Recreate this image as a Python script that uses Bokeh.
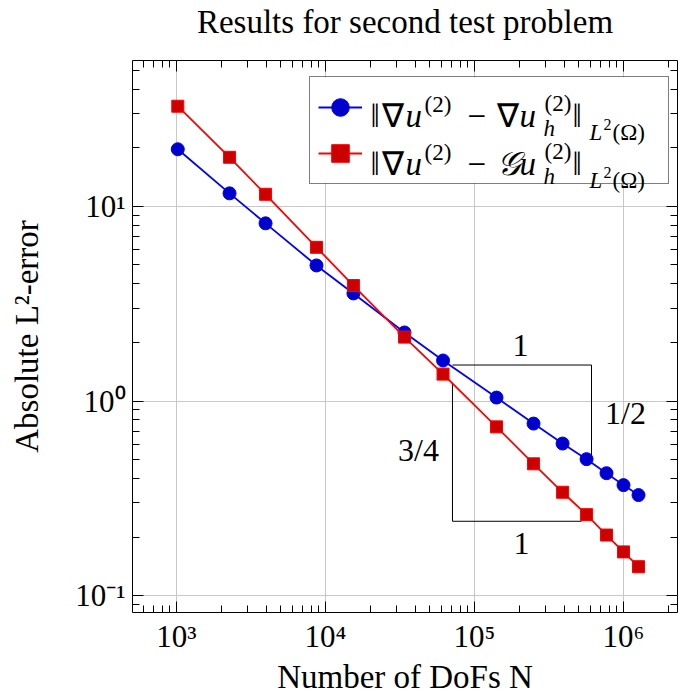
from bokeh.plotting import figure
from bokeh.models import (Range1d, FixedTicker, LogAxis, Label, Legend, LegendItem,
                          CustomJSTickFormatter, BoxAnnotation, Title)
from bokeh.embed import file_html
from bokeh.resources import INLINE

# ---------------- data ----------------
dofs = [1020, 2270, 3960, 8700, 15400, 33900, 61500, 140500, 249000,
        390000, 565000, 769000, 1000000, 1261000]
err_grad = [19.64, 11.66, 8.18, 4.97, 3.57, 2.25, 1.615, 1.042, 0.766,
            0.605, 0.503, 0.426, 0.370, 0.329]
err_rec = [32.67, 17.86, 11.53, 6.16, 3.92, 2.13, 1.375, 0.737, 0.476,
           0.340, 0.261, 0.205, 0.168, 0.141]

x_major = [1e3, 1e4, 1e5, 1e6]
x_labels = ["10³", "10⁴", "10⁵", "10⁶"]
y_major = [0.1, 1.0, 10.0]
y_labels = ["10⁻¹", "10⁰", "10¹"]

# slope triangles (data coordinates)
tri_half_x = [71150, 609900, 609900]
tri_half_y = [1.531, 1.531, 0.503]
tri_34_x = [71150, 71150, 522600]
tri_34_y = [1.245, 0.2413, 0.2413]

title_text = "Results for second test problem"
x_title = "Number of DoFs N"
y_title = "Absolute L²-error"

LX0, LX1 = 2.7047, 6.3624
LY0, LY1 = -1.086, 1.749

FONT = "Liberation Serif"

x_minor = [m * 10 ** e for e in range(2, 7) for m in range(2, 10)
           if 10 ** LX0 < m * 10 ** e < 10 ** LX1]
y_minor = [m * 10.0 ** e for e in range(-2, 2) for m in range(2, 10)
           if 10 ** LY0 < m * 10.0 ** e < 10 ** LY1]

p = figure(width=678, height=698, x_axis_type="log", y_axis_type="log",
           x_range=Range1d(10 ** LX0, 10 ** LX1), y_range=Range1d(10 ** LY0, 10 ** LY1),
           output_backend="svg", toolbar_location=None,
           min_border_left=132, min_border_right=1, min_border_top=60,
           min_border_bottom=86)
p.background_fill_color = "white"
p.border_fill_color = "white"
p.outline_line_color = "black"
p.outline_line_width = 1

p.title.text = title_text
p.title.text_font = FONT
p.title.text_font_size = "33px"
p.title.text_font_style = "normal"
p.title.text_color = "black"
p.title.align = "center"
p.title.standoff = 0

xt = FixedTicker(ticks=x_major, minor_ticks=x_minor)
yt = FixedTicker(ticks=y_major, minor_ticks=y_minor)


def style_axis(ax, ticker):
    ax.ticker = ticker
    ax.axis_line_color = None
    ax.major_tick_in = 11
    ax.major_tick_out = 0
    ax.minor_tick_in = 7
    ax.minor_tick_out = 0
    ax.major_tick_line_color = "black"
    ax.minor_tick_line_color = "black"
    ax.major_tick_line_width = 1
    ax.minor_tick_line_width = 1
    ax.major_label_text_font = FONT
    ax.major_label_text_font_size = "31px"
    ax.major_label_text_color = "black"
    ax.axis_label_text_font = FONT
    ax.axis_label_text_font_size = "33px"
    ax.axis_label_text_font_style = "normal"
    ax.axis_label_text_color = "black"


xa = p.xaxis[0]
style_axis(xa, xt)
xa.major_label_overrides = {float(k): v for k, v in zip(x_major, x_labels)}
xa.major_label_standoff = 6
xa.axis_label = x_title
xa.axis_label_standoff = 2

ya = p.yaxis[0]
style_axis(ya, yt)
ya.major_label_overrides = {float(k): v for k, v in zip(y_major, y_labels)}
ya.major_label_standoff = 7
ya.axis_label = y_title
ya.axis_label_standoff = 27

blank = CustomJSTickFormatter(code="return ''")
top = LogAxis()
style_axis(top, xt)
top.formatter = blank
top.major_label_standoff = 0
p.add_layout(top, "above")
right = LogAxis()
style_axis(right, yt)
right.formatter = blank
right.major_label_standoff = 0
p.add_layout(right, "right")

# spacer between the title and the frame
p.add_layout(Title(text=" ", text_font_size="1px", standoff=18), "above")

p.xgrid.grid_line_color = "#c8c8c8"
p.ygrid.grid_line_color = "#c8c8c8"
p.xgrid.grid_line_width = 1
p.ygrid.grid_line_width = 1


# helpers mapping reference pixel positions to data coordinates
def dx(px):
    return 10 ** (LX0 + (px - 132.0) / (677.0 - 132.0) * (LX1 - LX0))


def dy(py):
    return 10 ** (LY1 - (py - 60.3) / (611.7 - 60.3) * (LY1 - LY0))


# white backing of the legend box (covers the grid)
p.add_layout(BoxAnnotation(left=dx(309), right=dx(667), top=dy(77), bottom=dy(183),
                           fill_color="white", fill_alpha=1, line_color=None,
                           level="glyph"))

# slope triangles
p.line(tri_half_x, tri_half_y, line_color="black", line_width=1)
p.line(tri_34_x, tri_34_y, line_color="black", line_width=1)

# data series
r1l = p.line(dofs, err_grad, line_color="#0000ff", line_width=1.8)
r1m = p.scatter(dofs, err_grad, marker="circle", size=13,
                fill_color="#0000cc", line_color="#0000ff", line_width=1)
r2l = p.line(dofs, err_rec, line_color="#ff0000", line_width=1.8)
r2m = p.scatter(dofs, err_rec, marker="square", size=12,
                fill_color="#cc0000", line_color="#ff0000", line_width=1)

legend = Legend(items=[LegendItem(label=" ", renderers=[r1l, r1m]),
                       LegendItem(label=" ", renderers=[r2l, r2m])],
                location=(177, 428), padding=8, spacing=2,
                glyph_width=44, glyph_height=44, label_width=293,
                label_height=44, label_standoff=5,
                border_line_color="black", border_line_width=1,
                background_fill_alpha=0, margin=0)
p.add_layout(legend)


def put(text, px, py, size, style="normal", align="left", baseline="alphabetic"):
    p.add_layout(Label(x=dx(px), y=dy(py), text=text, text_font=FONT,
                       text_font_size=f"{size}px", text_font_style=style,
                       text_align=align, text_baseline=baseline,
                       text_color="black", level="overlay"))


# slope labels
put("1", 520, 345, 32, align="center", baseline="middle")
put("1/2", 625, 412, 32, align="center", baseline="middle")
put("3/4", 418, 449, 32, align="center", baseline="middle")
put("1", 521, 543, 32, align="center", baseline="middle")

# legend texts
for (base, op) in ((116, "∇"), (164, "𝒢")):
    put("‖", 370, base, 33)
    put("∇", 381, base, 33)
    put("u", 405, base, 33, style="italic")
    put("(2)", 424, base - 12, 23)
    put("−", 467, base, 33)
    put(op, 496, base, 33, style="italic" if op != "∇" else "normal")
    put("u", 519, base, 33, style="italic")
    put("(2)", 544, base - 13, 23)
    put("h", 543, base + 12, 23, style="italic")
    put("‖", 572, base, 33)
    put("L", 589, base + 16, 23, style="italic")
    put("2", 603, base + 8, 16)
    put("(Ω)", 612, base + 16, 23)

open("out.html", "w").write(file_html(p, INLINE))
